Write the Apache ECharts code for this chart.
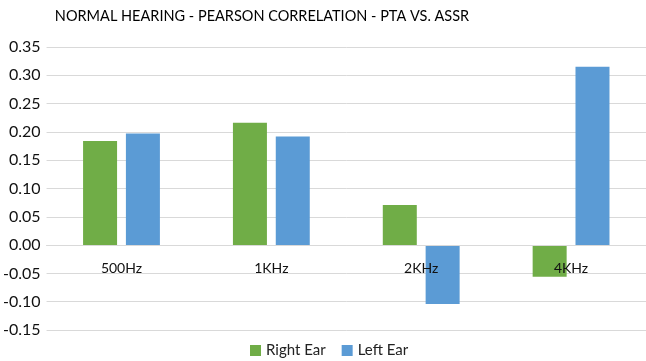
<!DOCTYPE html>
<html>
<head>
<meta charset="utf-8">
<script src="https://cdn.jsdelivr.net/npm/echarts@6/dist/echarts.min.js"></script>
<style>
  html, body { margin: 0; padding: 0; background: #fff; }
  #chart { width: 646px; height: 361px; }
</style>
</head>
<body>
<div id="chart"></div>
<script>
  // 数据
  var categories = ['500Hz', '1KHz', '2KHz', '4KHz'];
  var rightEar = [0.184, 0.216, 0.071, -0.056];
  var leftEar = [0.197, 0.192, -0.104, 0.315];
  var seriesNames = ['Right Ear', 'Left Ear'];

  var chart = echarts.init(document.getElementById('chart'));
  var font = 'Lato';

  var option = {
    animation: false,
    textStyle: { fontFamily: font },
    title: {
      text: 'NORMAL HEARING - PEARSON CORRELATION - PTA VS. ASSR',
      left: 257,
      top: 4,
      textAlign: 'center',
      textStyle: { fontFamily: font, fontSize: 14.5, fontWeight: 'normal', color: '#000' }
    },
    legend: {
      data: seriesNames,
      bottom: 3,
      left: 250,
      padding: 0,
      itemWidth: 11,
      itemHeight: 11,
      itemGap: 16,
      icon: 'rect',
      textStyle: { fontFamily: font, fontSize: 15, color: '#222' }
    },
    grid: {
      left: 46,
      right: 0,
      top: 47,
      bottom: 31
    },
    xAxis: {
      type: 'category',
      data: categories,
      // 标签放在零线下方, 压在柱子上面
      offset: -85,
      z: 5,
      axisLine: { onZero: false, lineStyle: { color: '#d9d9d9', width: 1 } },
      axisTick: { show: false },
      axisLabel: { margin: 16, fontSize: 14, color: '#111', fontFamily: font }
    },
    yAxis: {
      type: 'value',
      min: -0.15,
      max: 0.35,
      interval: 0.05,
      axisLine: { show: false },
      axisTick: { show: false },
      axisLabel: {
        margin: 6,
        fontSize: 16,
        color: '#111',
        fontFamily: font,
        formatter: function (v) { return v.toFixed(2); }
      },
      splitLine: { lineStyle: { color: '#d9d9d9', width: 1 } }
    },
    series: [{
      name: seriesNames[0],
      type: 'bar',
      data: rightEar,
      barWidth: 34,
      barGap: '26%',
      itemStyle: { color: '#70ad47' }
    }, {
      name: seriesNames[1],
      type: 'bar',
      data: leftEar,
      barWidth: 34,
      itemStyle: { color: '#5b9bd5' }
    }]
  };

  chart.setOption(option);
</script>
</body>
</html>
